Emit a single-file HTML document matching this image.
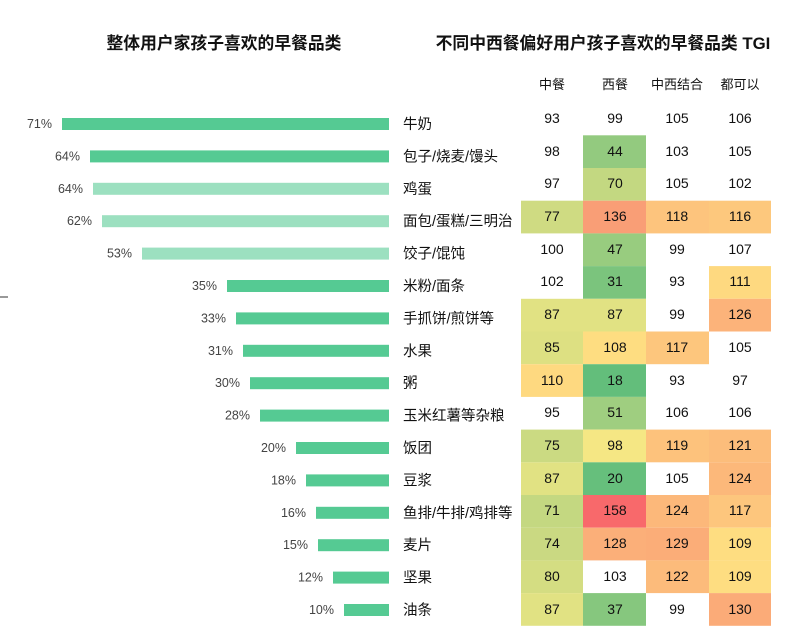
<!DOCTYPE html>
<html><head><meta charset="utf-8"><style>
body{margin:0;background:#fff;}
svg{display:block;font-family:"Liberation Sans","Noto Sans CJK SC",sans-serif;}
.p{font-size:12.5px;fill:#444;text-anchor:end;}
.l{font-size:14.5px;fill:#111;}
.v{font-size:14px;fill:#111;text-anchor:middle;}
.h{font-size:13px;fill:#111;text-anchor:middle;}
.t{font-weight:bold;fill:#111;text-anchor:middle;}
</style></head><body>
<svg width="812" height="627" viewBox="0 0 812 627">
<text class="t" x="224" y="49" font-size="16.8">整体用户家孩子喜欢的早餐品类</text>
<text class="t" x="603" y="49" font-size="16.8">不同中西餐偏好用户孩子喜欢的早餐品类 TGI</text>
<text class="h" x="552" y="89">中餐</text>
<text class="h" x="615" y="89">西餐</text>
<text class="h" x="677" y="89">中西结合</text>
<text class="h" x="740" y="89">都可以</text>
<line x1="0" y1="297" x2="8" y2="297" stroke="#333" stroke-width="1"/>
<g>
<rect x="62" y="118" width="327" height="12" fill="#55ca93"/><text class="p" x="52" y="128">71%</text><text class="l" x="403" y="129">牛奶</text>
<rect x="90" y="150.4" width="299" height="12" fill="#55ca93"/><text class="p" x="80" y="160.4">64%</text><text class="l" x="403" y="161.4">包子/烧麦/馒头</text>
<rect x="93" y="182.8" width="296" height="12" fill="#9ce0c0"/><text class="p" x="83" y="192.8">64%</text><text class="l" x="403" y="193.8">鸡蛋</text>
<rect x="102" y="215.2" width="287" height="12" fill="#9ce0c0"/><text class="p" x="92" y="225.2">62%</text><text class="l" x="403" y="226.2">面包/蛋糕/三明治</text>
<rect x="142" y="247.6" width="247" height="12" fill="#9ce0c0"/><text class="p" x="132" y="257.6">53%</text><text class="l" x="403" y="258.6">饺子/馄饨</text>
<rect x="227" y="280" width="162" height="12" fill="#55ca93"/><text class="p" x="217" y="290">35%</text><text class="l" x="403" y="291">米粉/面条</text>
<rect x="236" y="312.4" width="153" height="12" fill="#55ca93"/><text class="p" x="226" y="322.4">33%</text><text class="l" x="403" y="323.4">手抓饼/煎饼等</text>
<rect x="243" y="344.8" width="146" height="12" fill="#55ca93"/><text class="p" x="233" y="354.8">31%</text><text class="l" x="403" y="355.8">水果</text>
<rect x="250" y="377.2" width="139" height="12" fill="#55ca93"/><text class="p" x="240" y="387.2">30%</text><text class="l" x="403" y="388.2">粥</text>
<rect x="260" y="409.6" width="129" height="12" fill="#55ca93"/><text class="p" x="250" y="419.6">28%</text><text class="l" x="403" y="420.6">玉米红薯等杂粮</text>
<rect x="296" y="442" width="93" height="12" fill="#55ca93"/><text class="p" x="286" y="452">20%</text><text class="l" x="403" y="453">饭团</text>
<rect x="306" y="474.4" width="83" height="12" fill="#55ca93"/><text class="p" x="296" y="484.4">18%</text><text class="l" x="403" y="485.4">豆浆</text>
<rect x="316" y="506.8" width="73" height="12" fill="#55ca93"/><text class="p" x="306" y="516.8">16%</text><text class="l" x="403" y="517.8">鱼排/牛排/鸡排等</text>
<rect x="318" y="539.2" width="71" height="12" fill="#55ca93"/><text class="p" x="308" y="549.2">15%</text><text class="l" x="403" y="550.2">麦片</text>
<rect x="333" y="571.6" width="56" height="12" fill="#55ca93"/><text class="p" x="323" y="581.6">12%</text><text class="l" x="403" y="582.6">坚果</text>
<rect x="344" y="604" width="45" height="12" fill="#55ca93"/><text class="p" x="334" y="614">10%</text><text class="l" x="403" y="615">油条</text>
</g>
<g>
<text class="v" x="552" y="123">93</text><text class="v" x="615" y="123">99</text><text class="v" x="677" y="123">105</text><text class="v" x="740" y="123">106</text>
<rect x="583" y="135.3" width="63" height="32.7" fill="#93ca7f"/>
<text class="v" x="552" y="156">98</text><text class="v" x="615" y="156">44</text><text class="v" x="677" y="156">103</text><text class="v" x="740" y="156">105</text>
<rect x="583" y="168" width="63" height="32.7" fill="#c3d881"/>
<text class="v" x="552" y="188">97</text><text class="v" x="615" y="188">70</text><text class="v" x="677" y="188">105</text><text class="v" x="740" y="188">102</text>
<rect x="521" y="200.7" width="62" height="32.7" fill="#cfdb82"/><rect x="583" y="200.7" width="63" height="32.7" fill="#f99e76"/><rect x="646" y="200.7" width="63" height="32.7" fill="#fdc47d"/><rect x="709" y="200.7" width="62" height="32.7" fill="#fdc87d"/>
<text class="v" x="552" y="221">77</text><text class="v" x="615" y="221">136</text><text class="v" x="677" y="221">118</text><text class="v" x="740" y="221">116</text>
<rect x="583" y="233.4" width="63" height="32.7" fill="#98cc7f"/>
<text class="v" x="552" y="254">100</text><text class="v" x="615" y="254">47</text><text class="v" x="677" y="254">99</text><text class="v" x="740" y="254">107</text>
<rect x="583" y="266.1" width="63" height="32.7" fill="#7bc47d"/><rect x="709" y="266.1" width="62" height="32.7" fill="#fed980"/>
<text class="v" x="552" y="286">102</text><text class="v" x="615" y="286">31</text><text class="v" x="677" y="286">93</text><text class="v" x="740" y="286">111</text>
<rect x="521" y="298.8" width="62" height="32.7" fill="#e1e283"/><rect x="583" y="298.8" width="63" height="32.7" fill="#e1e283"/><rect x="709" y="298.8" width="62" height="32.7" fill="#fcb37a"/>
<text class="v" x="552" y="319">87</text><text class="v" x="615" y="319">87</text><text class="v" x="677" y="319">99</text><text class="v" x="740" y="319">126</text>
<rect x="521" y="331.5" width="62" height="32.7" fill="#dde082"/><rect x="583" y="331.5" width="63" height="32.7" fill="#fedd81"/><rect x="646" y="331.5" width="63" height="32.7" fill="#fdc67d"/>
<text class="v" x="552" y="352">85</text><text class="v" x="615" y="352">108</text><text class="v" x="677" y="352">117</text><text class="v" x="740" y="352">105</text>
<rect x="521" y="364.2" width="62" height="32.7" fill="#fed980"/><rect x="583" y="364.2" width="63" height="32.7" fill="#63be7b"/>
<text class="v" x="552" y="385">110</text><text class="v" x="615" y="385">18</text><text class="v" x="677" y="385">93</text><text class="v" x="740" y="385">97</text>
<rect x="583" y="396.9" width="63" height="32.7" fill="#9fce80"/>
<text class="v" x="552" y="417">95</text><text class="v" x="615" y="417">51</text><text class="v" x="677" y="417">106</text><text class="v" x="740" y="417">106</text>
<rect x="521" y="429.6" width="62" height="32.7" fill="#cbda82"/><rect x="583" y="429.6" width="63" height="32.7" fill="#f5e784"/><rect x="646" y="429.6" width="63" height="32.7" fill="#fdc27c"/><rect x="709" y="429.6" width="62" height="32.7" fill="#fcbd7b"/>
<text class="v" x="552" y="450">75</text><text class="v" x="615" y="450">98</text><text class="v" x="677" y="450">119</text><text class="v" x="740" y="450">121</text>
<rect x="521" y="462.3" width="62" height="32.7" fill="#e1e283"/><rect x="583" y="462.3" width="63" height="32.7" fill="#66bf7c"/><rect x="709" y="462.3" width="62" height="32.7" fill="#fcb87a"/>
<text class="v" x="552" y="483">87</text><text class="v" x="615" y="483">20</text><text class="v" x="677" y="483">105</text><text class="v" x="740" y="483">124</text>
<rect x="521" y="495" width="62" height="32.7" fill="#c4d881"/><rect x="583" y="495" width="63" height="32.7" fill="#f8696b"/><rect x="646" y="495" width="63" height="32.7" fill="#fcb87a"/><rect x="709" y="495" width="62" height="32.7" fill="#fdc67d"/>
<text class="v" x="552" y="515">71</text><text class="v" x="615" y="515">158</text><text class="v" x="677" y="515">124</text><text class="v" x="740" y="515">117</text>
<rect x="521" y="527.7" width="62" height="32.7" fill="#cad982"/><rect x="583" y="527.7" width="63" height="32.7" fill="#fbaf79"/><rect x="646" y="527.7" width="63" height="32.7" fill="#fbad78"/><rect x="709" y="527.7" width="62" height="32.7" fill="#fedd81"/>
<text class="v" x="552" y="548">74</text><text class="v" x="615" y="548">128</text><text class="v" x="677" y="548">129</text><text class="v" x="740" y="548">109</text>
<rect x="521" y="560.4" width="62" height="32.7" fill="#d4dd82"/><rect x="646" y="560.4" width="63" height="32.7" fill="#fcbb7b"/><rect x="709" y="560.4" width="62" height="32.7" fill="#fedd81"/>
<text class="v" x="552" y="581">80</text><text class="v" x="615" y="581">103</text><text class="v" x="677" y="581">122</text><text class="v" x="740" y="581">109</text>
<rect x="521" y="593.1" width="62" height="32.7" fill="#e1e283"/><rect x="583" y="593.1" width="63" height="32.7" fill="#86c77e"/><rect x="709" y="593.1" width="62" height="32.7" fill="#fbab78"/>
<text class="v" x="552" y="614">87</text><text class="v" x="615" y="614">37</text><text class="v" x="677" y="614">99</text><text class="v" x="740" y="614">130</text>
</g>
</svg>
</body></html>
